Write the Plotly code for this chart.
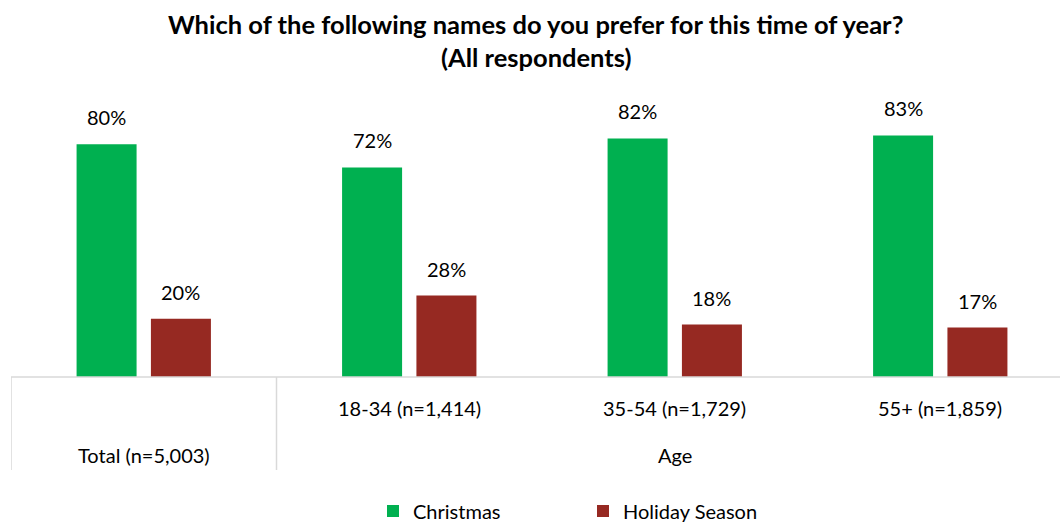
import plotly.graph_objects as go

# Survey results: preferred name for the season, by group
groups = ["Total (n=5,003)", "18-34 (n=1,414)", "35-54 (n=1,729)", "55+ (n=1,859)"]
christmas = [80, 72, 82, 83]
holiday_season = [20, 28, 18, 17]
title_lines = ["Which of the following names do you prefer for this time of year?",
               "(All respondents)"]

GREEN = "#00B050"
RED = "#962922"
GRID = "#D9D9D9"
FONT = "Lato"
LABEL_SIZE = 20
PLOT_H = 291   # plot area height in px
BASE_Y = 377   # pixel row of the baseline

x = list(range(len(groups)))
offset = 0.14
width = 0.226

fig = go.Figure()
series = [("Christmas", christmas, GREEN, -offset), ("Holiday Season", holiday_season, RED, offset)]
annotations = []
for name, vals, color, off in series:
    xs = [i + off for i in x]
    fig.add_trace(go.Bar(
        x=xs, y=vals, width=width, name=name,
        marker=dict(color=color, line=dict(width=0)),
    ))
    # value labels above each bar
    for xi, v in zip(xs, vals):
        annotations.append(dict(x=xi, y=v, xref="x", yref="y", text=f"{v}%",
                                showarrow=False, yanchor="bottom", yshift=13,
                                font=dict(size=LABEL_SIZE, family=FONT, color="#000000")))

# Category axis drawn by hand: baseline, dividers and two label rows
shapes = [
    dict(type="line", xref="x", yref="paper", x0=-0.5, x1=3.6, y0=0, y1=0,
         line=dict(color=GRID, width=1.5)),
    dict(type="line", xref="x", yref="paper", x0=-0.5, x1=-0.5, y0=0, y1=-93 / PLOT_H,
         line=dict(color=GRID, width=1.5)),
    dict(type="line", xref="x", yref="paper", x0=0.5, x1=0.5, y0=0, y1=-93 / PLOT_H,
         line=dict(color=GRID, width=1.5)),
]
for i, g in enumerate(groups[1:], start=1):
    annotations.append(dict(x=i, y=-31 / PLOT_H, xref="x", yref="paper", text=g,
                            showarrow=False, yanchor="middle",
                            font=dict(size=LABEL_SIZE, family=FONT, color="#000000")))
annotations.append(dict(x=0, y=-78 / PLOT_H, xref="x", yref="paper", text=groups[0],
                        showarrow=False, yanchor="middle",
                        font=dict(size=LABEL_SIZE, family=FONT, color="#000000")))
annotations.append(dict(x=2, y=-78 / PLOT_H, xref="x", yref="paper", text="Age",
                        showarrow=False, yanchor="middle",
                        font=dict(size=LABEL_SIZE, family=FONT, color="#000000")))

# Chart title, one annotation per line
for line, py in zip(title_lines, [24, 57]):
    annotations.append(dict(
        x=0.5, xref="paper", xanchor="center", y=(BASE_Y - py) / PLOT_H, yref="paper",
        yanchor="middle", text=f"<b>{line}</b>", showarrow=False,
        font=dict(size=25.5, family=FONT, color="#000000"),
    ))

fig.update_layout(
    width=1060, height=523,
    margin=dict(l=11, r=0, t=86, b=146, autoexpand=False),
    paper_bgcolor="white", plot_bgcolor="white",
    xaxis=dict(range=[-0.5, 3.451], showticklabels=False, showgrid=False,
               zeroline=False, showline=False, ticks=""),
    yaxis=dict(range=[0, 100], visible=False),
    barmode="overlay",
    showlegend=True,
    legend=dict(orientation="h", x=(373 - 11) / 1049, xanchor="left", y=-134 / PLOT_H, yanchor="middle",
                font=dict(size=LABEL_SIZE, family=FONT, color="#000000"), entrywidth=165,
                itemwidth=30, traceorder="normal"),
    shapes=shapes, annotations=annotations,
)

fig.write_html("out.html")
